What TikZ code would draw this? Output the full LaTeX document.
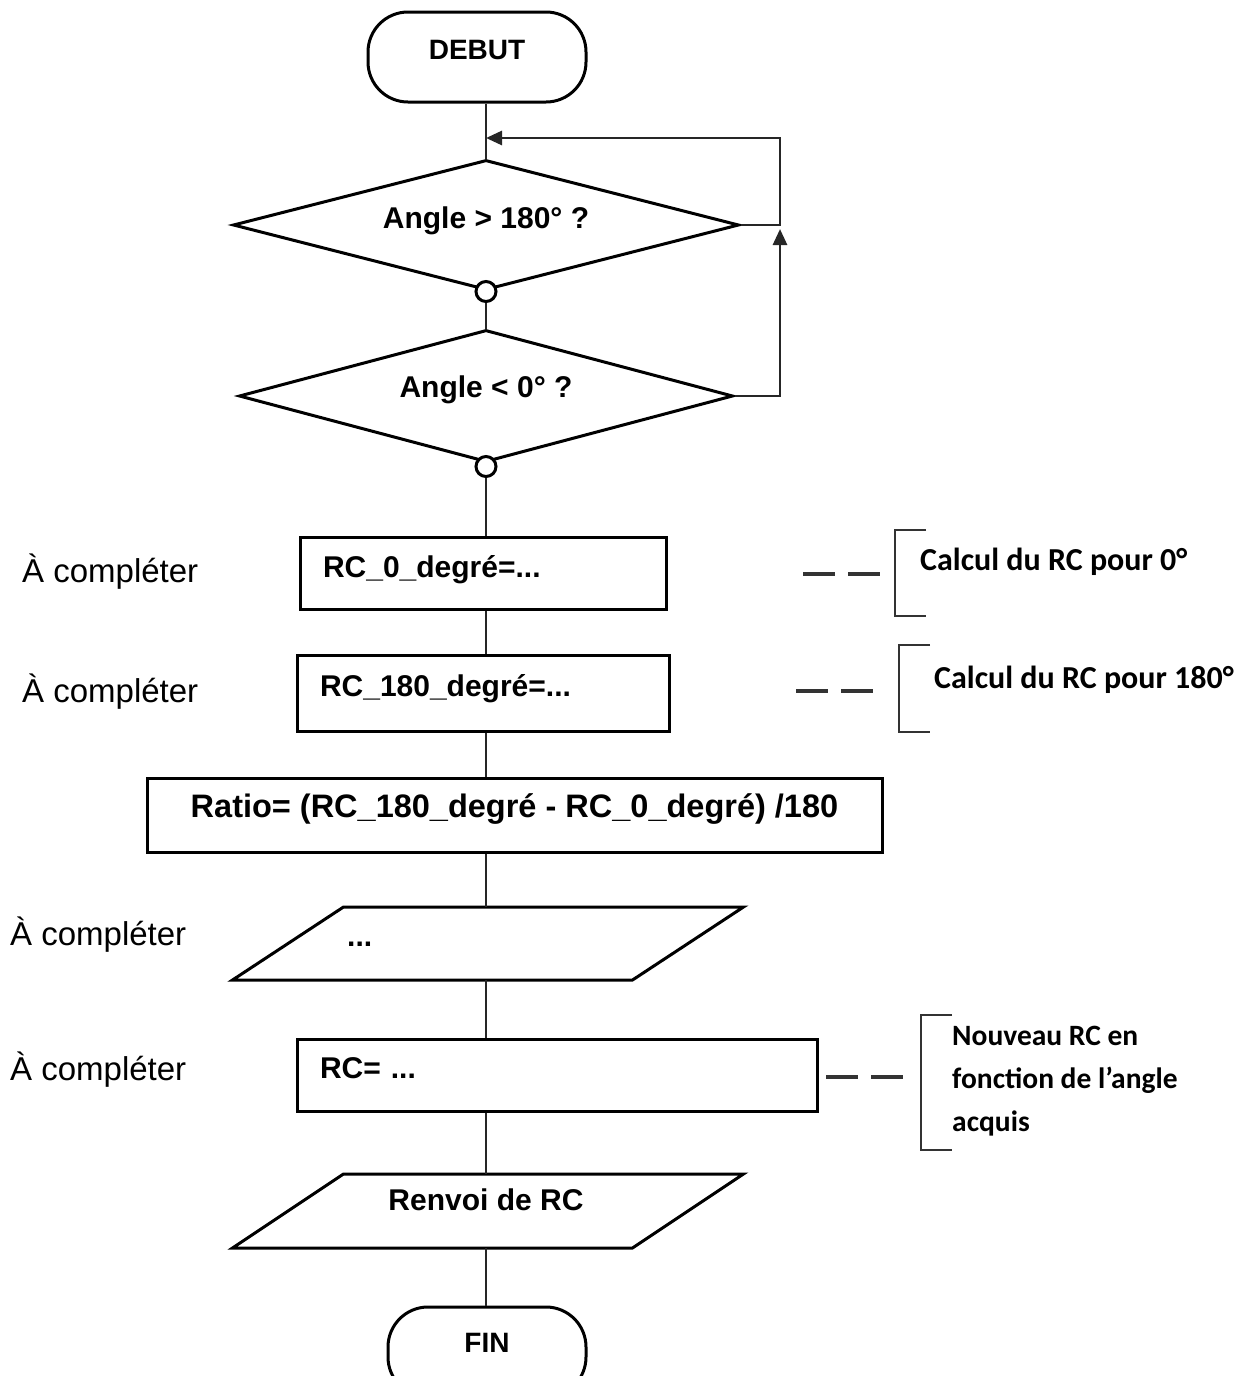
\documentclass[tikz,border=0pt]{standalone}
\usepackage{fontspec}
\setmainfont{Liberation Sans}
\newfontfamily\calib{Carlito}
\usetikzlibrary{shapes.geometric,arrows.meta,calc}
\newcommand{\up}[2]{\raisebox{#1}[\height][\depth]{#2}}
\begin{document}
\begin{tikzpicture}[x=1pt,y=-1pt,
  shp/.style={draw=black,line width=3pt},
  conn/.style={draw=black!85,line width=2.8pt},
  arr/.style={conn,-{Triangle[length=16pt,width=14pt]}},
  term/.style={shp,rectangle,rounded corners=40pt,minimum height=90pt,inner sep=0pt,font=\fontsize{28}{32}\selectfont\bfseries},
  dec/.style={shp,diamond,aspect=3.9,inner sep=0pt,font=\fontsize{30}{34}\selectfont\bfseries},
  box/.style={shp,rectangle,inner sep=0pt,font=\fontsize{30}{34}\selectfont\bfseries},
  lbl/.style={font=\fontsize{33}{36}\selectfont,inner sep=0pt,anchor=west},
  note/.style={font=\calib\fontsize{32}{43}\selectfont\bfseries,inner sep=0pt,anchor=west,align=left},
  dsh/.style={draw=black!80,line width=4pt,dash pattern=on 32pt off 13pt},
  brk/.style={draw=black!80,line width=2.8pt},
  dot/.style={shp,circle,fill=white,minimum size=20pt,inner sep=0pt},
  ptxt/.style={font=\fontsize{30}{34}\selectfont\bfseries,inner sep=0pt}
]
\useasboundingbox (0,0) rectangle (1253,1376);

% main flow
\node[term,minimum width=218pt] (debut) at (477,57) {\up{7pt}{DEBUT}};
\node[dec,minimum width=506pt,minimum height=130pt] (d1) at (486,225) {\up{4pt}{Angle > 180° ?}};
\node[dot] (c1) at (d1.south) {};
\node[dec,minimum width=494pt,minimum height=132pt] (d2) at (486,396) {\up{6pt}{Angle < 0° ?}};
\node[dot] (c2) at ($(d2.south)+(0,3)$) {};

\node[box,minimum width=366pt,minimum height=72pt,text width=320pt,align=left] (b1) at (483,573) {\up{3pt}{RC\_0\_degré=...}};
\node[box,minimum width=372pt,minimum height=76pt,text width=326pt,align=left] (b2) at (483,693) {\up{4pt}{RC\_180\_degré=...}};
\node[box,minimum width=735pt,minimum height=74pt,font=\fontsize{32.5}{35}\selectfont\bfseries] (b3) at (514.5,815) {\up{6pt}{Ratio= (RC\_180\_degré - RC\_0\_degré) /180}};

\node[inner sep=0pt,minimum width=400pt,minimum height=73pt] (p1) at (488,943.5) {};
\draw[shp] ($(p1.center)+(-144.5,-36.5)$) -- ++(400,0) -- ($(p1.center)+(144.5,36.5)$) -- ++(-400,0) -- cycle;
\node[ptxt,anchor=west] (p1t) at (347,944) {...};

\node[box,minimum width=520pt,minimum height=72pt,text width=474pt,align=left] (b4) at (557,1075) {\up{7pt}{RC= ...}};

\node[inner sep=0pt,minimum width=400pt,minimum height=74pt] (p2) at (488,1211) {};
\draw[shp] ($(p2.center)+(-144.5,-37)$) -- ++(400,0) -- ($(p2.center)+(144.5,37)$) -- ++(-400,0) -- cycle;
\node[ptxt] (p2t) at (486,1200) {Renvoi de RC};

\node[term,minimum width=198pt] (fin) at (487,1352) {\up{9pt}{FIN}};

% connectors
\draw[conn] (d1.north |- debut.south) -- (d1.north);
\draw[conn] (c1.south) -- (d2.north);
\draw[conn] (c2.south) -- (b1.north -| c2);
\draw[conn] (b1.south -| c2) -- (b2.north -| c2);
\draw[conn] (b2.south -| c2) -- (b3.north -| c2);
\draw[conn] (b3.south -| c2) -- (p1.north -| c2);
\draw[conn] (p1.south -| c2) -- (b4.north -| c2);
\draw[conn] (b4.south -| c2) -- (p2.north -| c2);
\draw[conn] (p2.south -| c2) -- (fin.north -| c2);

% feedback loops
\coordinate (fbtop) at (780,138);
\coordinate (fbjoin) at (780,229);
\draw[arr] (d1.east) -| (fbtop) -- (fbtop -| d1.north);
\draw[arr] (d2.east) -| (fbjoin);

% left labels
\node[lbl] (l1) at (22,572) {À compléter};
\node[lbl] (l2) at (22,692) {À compléter};
\node[lbl] (l3) at (10,935) {À compléter};
\node[lbl] (l4) at (10,1070) {À compléter};

% annotations
\node[note] (n1) at (920,562) {Calcul du RC pour 0°};
\node[note] (n2) at (934,680) {Calcul du RC pour 180°};
\node[note,font=\calib\fontsize{29.5}{43}\selectfont\bfseries] (n3) at (952,1081) {Nouveau RC en\\fonction de l’angle\\acquis};

\draw[brk] (926,530) -- (895,530) -- (895,616) -- (926,616);
\draw[brk] (930,645) -- (899,645) -- (899,732) -- (930,732);
\draw[brk] (952,1015) -- (921,1015) -- (921,1150) -- (952,1150);

\coordinate (a1) at (803,574); \coordinate (a1e) at (880,574);
\coordinate (a2) at (796,691); \coordinate (a2e) at (873,691);
\coordinate (a3) at (826,1077); \coordinate (a3e) at (903,1077);
\draw[dsh] (a1) -- (a1e);
\draw[dsh] (a2) -- (a2e);
\draw[dsh] (a3) -- (a3e);
\end{tikzpicture}
\end{document}
